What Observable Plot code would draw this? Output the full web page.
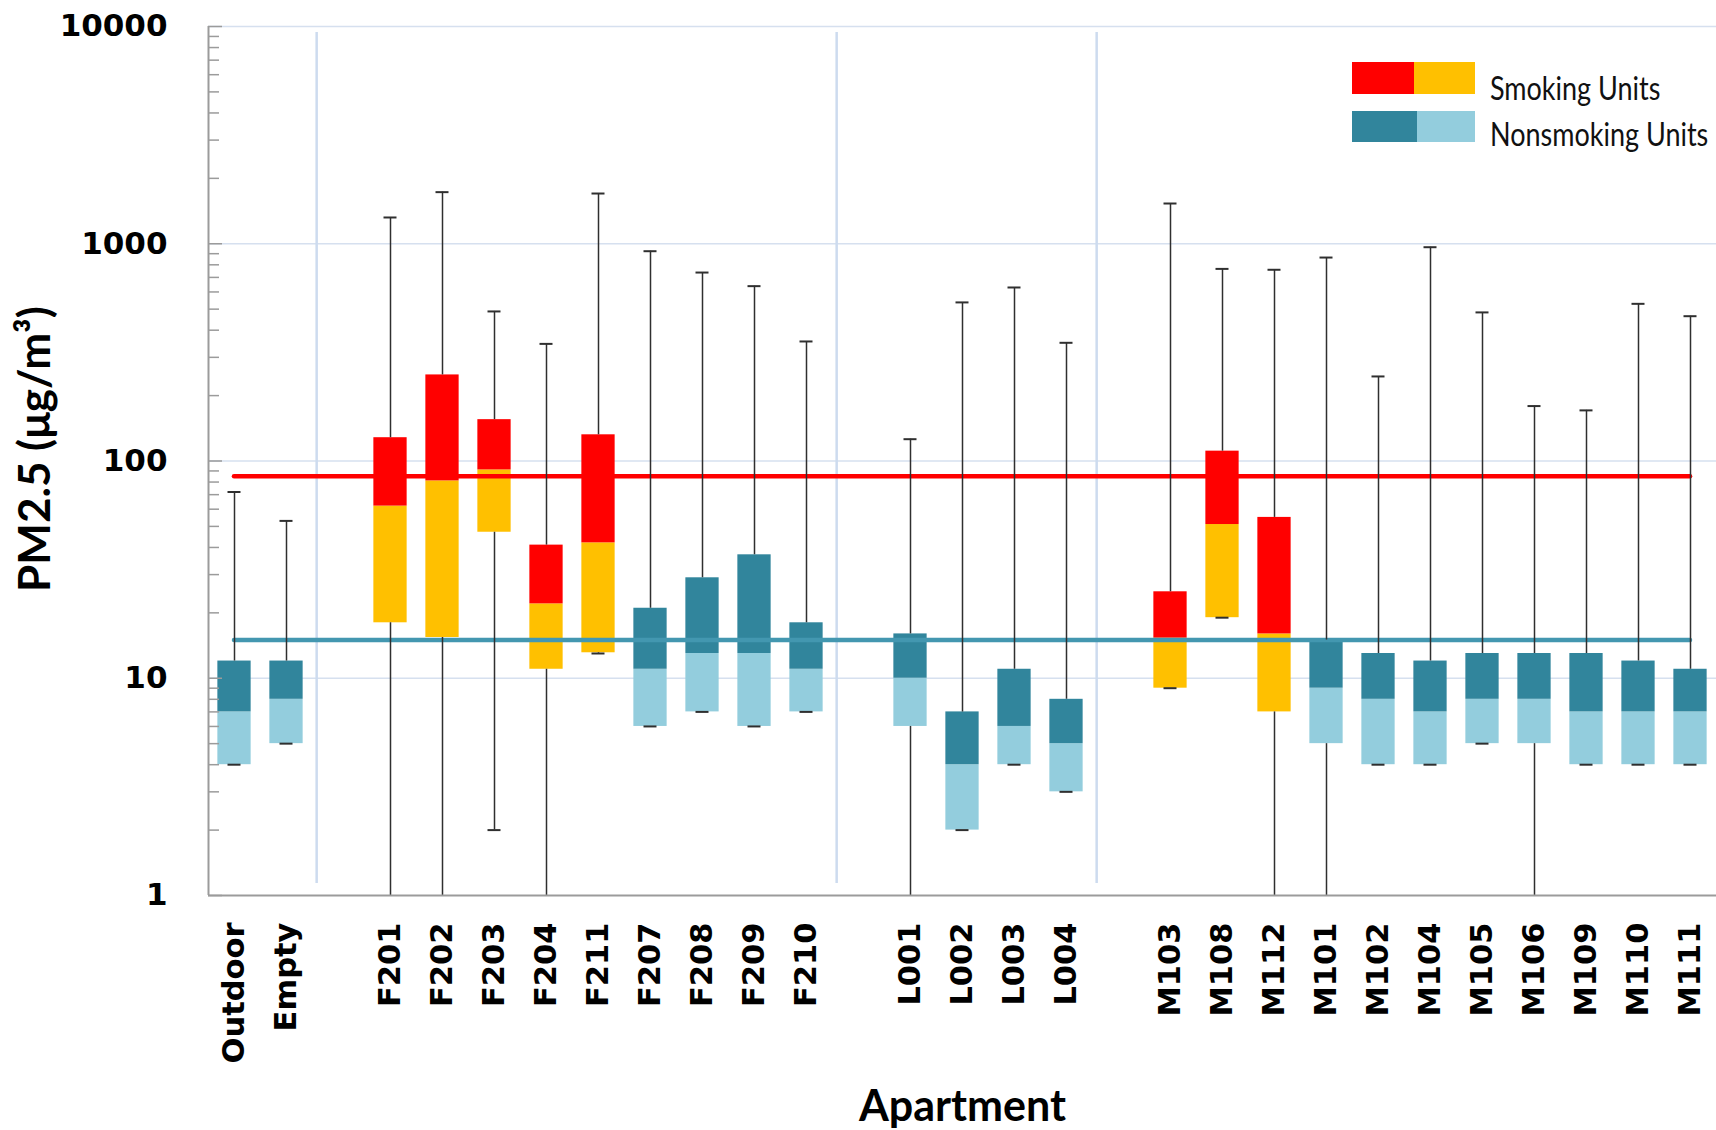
<!DOCTYPE html>
<html>
<head>
<meta charset="utf-8">
<script src="https://cdn.jsdelivr.net/npm/d3@7"></script>
<script src="https://cdn.jsdelivr.net/npm/@observablehq/plot@0.6"></script>
<style>
  body { margin: 0; background: #fff; }
  #chart { width: 1716px; height: 1130px; }
</style>
</head>
<body>
<div id="chart"></div>
<script>
// ---------- data ----------
const groupOutdoor = ["Outdoor", "Empty"];
const groupF = ["F201", "F202", "F203", "F204", "F211", "F207", "F208", "F209", "F210"];
const groupL = ["L001", "L002", "L003", "L004"];
const groupM = ["M103", "M108", "M112", "M101", "M102", "M104", "M105", "M106", "M109", "M110", "M111"];
const smokingUnits = ["F201", "F202", "F203", "F204", "F211", "M103", "M108", "M112"];

// values in the order Outdoor, Empty, F..., L..., M...
const whiskerMin = [4, 5, 1, 1, 2, 1, 13, 6, 7, 6, 7, 1, 2, 4, 3, 9, 19, 1, 1, 4, 4, 5, 1, 4, 4, 4];
const boxLow     = [4, 5, 18, 15.4, 47, 11, 13.1, 6, 7, 6, 7, 6, 2, 4, 3, 9, 19, 7, 5, 4, 4, 5, 5, 4, 4, 4];
const medianVal  = [7, 8, 62, 81, 91, 22, 42, 11, 13, 13, 11, 10, 4, 6, 5, 15.3, 51, 16, 9, 8, 7, 8, 8, 7, 7, 7];
const boxHigh    = [12, 12, 128, 249, 155, 41, 132, 21, 29, 37, 18, 16, 7, 11, 8, 25, 111, 55, 15, 13, 12, 13, 13, 13, 12, 11];
const whiskerMax = [72, 53, 1321, 1728, 488, 346, 1703, 924, 737, 638, 355, 126, 537, 629, 350, 1532, 766, 759, 864, 245, 964, 483, 179, 171, 529, 464];

const smokingRef = 85;
const nonsmokingRef = 15;
const yTicks = [1, 10, 100, 1000, 10000];

const legendItems = ["Smoking Units", "Nonsmoking Units"];

// ---------- layout / styles ----------
const W = 1716, H = 1130;
const mL = 208, mR = 0, mT = 26, mB = 235;
const frameW = W - mL - mR;
const BOX_HALF = 0.32, CAP_HALF = 0.125, DIVIDER_OFFSET = 0.58;
const C = {
  red: "#FF0000", yellow: "#FFC000", dark: "#31859C", light: "#93CDDD",
  blueLine: "#4397B0", grid: "#d6e0ef", divider: "#cddbef", axis: "#9b9b9b", whisker: "#2f2f2f"
};

// build rows with slot positions (one empty slot between groups)
const groups = [groupOutdoor, groupF, groupL, groupM];
const rows = [];
const dividers = [];
let slot = 0;
groups.forEach((g, gi) => {
  if (gi > 0) { dividers.push(slot - 1 + DIVIDER_OFFSET); slot += 1; }
  g.forEach(name => rows.push({name, slot: slot++}));
});
rows.forEach((r, i) => {
  r.min = whiskerMin[i]; r.q1 = boxLow[i]; r.med = medianVal[i]; r.q3 = boxHigh[i]; r.max = whiskerMax[i];
  r.smoking = smokingUnits.includes(r.name);
});
const xDomain = [-0.5, slot - 0.5];
const firstSlot = rows[0].slot, lastSlot = rows[rows.length - 1].slot;

const minorTicks = [];
for (const d of yTicks.slice(0, -1)) for (let k = 2; k <= 9; k++) minorTicks.push(d * k);

const svg = Plot.plot({
  width: W, height: H,
  marginLeft: mL, marginRight: mR, marginTop: mT, marginBottom: mB,
  style: {background: "white", overflow: "visible"},
  x: {type: "linear", domain: xDomain, axis: null},
  y: {type: "log", domain: [yTicks[0], yTicks[yTicks.length - 1]], axis: null},
  marks: [
    Plot.gridY(yTicks.slice(1), {stroke: C.grid, strokeOpacity: 1, strokeWidth: 1.5}),
    Plot.ruleX(dividers, {x: d => d, stroke: C.divider, strokeWidth: 2.5, insetTop: 6, insetBottom: 12}),
    // boxes
    Plot.rect(rows, {x1: d => d.slot - BOX_HALF, x2: d => d.slot + BOX_HALF, y1: "q1", y2: "med",
      fill: d => d.smoking ? C.yellow : C.light}),
    Plot.rect(rows, {x1: d => d.slot - BOX_HALF, x2: d => d.slot + BOX_HALF, y1: "med", y2: "q3",
      fill: d => d.smoking ? C.red : C.dark}),
    // reference lines
    Plot.ruleY([smokingRef], {x1: firstSlot, x2: lastSlot, stroke: C.red, strokeWidth: 4.5, strokeLinecap: "round"}),
    Plot.ruleY([nonsmokingRef], {x1: firstSlot, x2: lastSlot, stroke: C.blueLine, strokeWidth: 4.5, strokeLinecap: "round"}),
    // whiskers
    Plot.ruleX(rows, {x: "slot", y1: "q3", y2: "max", stroke: C.whisker, strokeWidth: 1.5}),
    Plot.ruleX(rows.filter(d => d.min < d.q1), {x: "slot", y1: "min", y2: "q1", stroke: C.whisker, strokeWidth: 1.5}),
    Plot.ruleY(rows, {y: "max", x1: d => d.slot - CAP_HALF, x2: d => d.slot + CAP_HALF, stroke: C.whisker, strokeWidth: 2}),
    Plot.ruleY(rows.filter(d => d.min > yTicks[0]), {y: "min", x1: d => d.slot - CAP_HALF, x2: d => d.slot + CAP_HALF, stroke: C.whisker, strokeWidth: 2}),
    // axes
    Plot.ruleX([xDomain[0]], {stroke: C.axis, strokeWidth: 2}),
    Plot.ruleY([yTicks[0]], {stroke: C.axis, strokeWidth: 2}),
    Plot.tickY(minorTicks, {y: d => d, stroke: C.axis, strokeWidth: 1.5, insetRight: frameW - 11}),
    Plot.tickY(yTicks, {y: d => d, stroke: C.axis, strokeWidth: 1.5, insetRight: frameW - 14}),
    Plot.axisY({ticks: yTicks, tickFormat: d => String(d), tickSize: 0, tickPadding: 41,
      fontSize: 31, fontWeight: "bold", fontFamily: "DejaVu Sans", fill: "#000", label: null}),
    Plot.text(rows, {x: "slot", text: "name", frameAnchor: "bottom", dy: 27, rotate: -90,
      textAnchor: "end", lineAnchor: "middle", fontSize: 30.5, fontWeight: "bold", fontFamily: "DejaVu Sans", fill: "#000"}),
    Plot.text(["PM2.5 (μg/m³)"], {frameAnchor: "left", dx: -173, dy: -12, rotate: -90,
      textAnchor: "middle", lineAnchor: "middle",
      fontSize: 44, fontWeight: "bold", fontFamily: "Lato", fill: "#000"}),
    Plot.text(["Apartment"], {frameAnchor: "bottom", dy: 212, textAnchor: "middle", lineAnchor: "middle",
      fontSize: 43, fontWeight: "bold", fontFamily: "Lato", fill: "#000"})
  ]
});

// legend inside the svg (top-right)
const lg = d3.select(svg).append("g").attr("class", "legend");
const legendRows = [
  {label: legendItems[0], c1: C.red, c2: C.yellow, y: 62, h: 32, split: 62, baseline: 100},
  {label: legendItems[1], c1: C.dark, c2: C.light, y: 111, h: 31, split: 65, baseline: 146}
];
legendRows.forEach(r => {
  lg.append("rect").attr("x", 1352).attr("y", r.y).attr("width", r.split).attr("height", r.h).attr("fill", r.c1);
  lg.append("rect").attr("x", 1352 + r.split).attr("y", r.y).attr("width", 123 - r.split).attr("height", r.h).attr("fill", r.c2);
  lg.append("text")
    .attr("transform", `translate(1490,${r.baseline}) scale(1,1.2)`)
    .attr("text-anchor", "start")
    .text(r.label)
    .attr("font-family", "Lato").attr("font-size", 27).attr("fill", "#111");
});

document.getElementById("chart").appendChild(svg);
</script>
</body>
</html>
